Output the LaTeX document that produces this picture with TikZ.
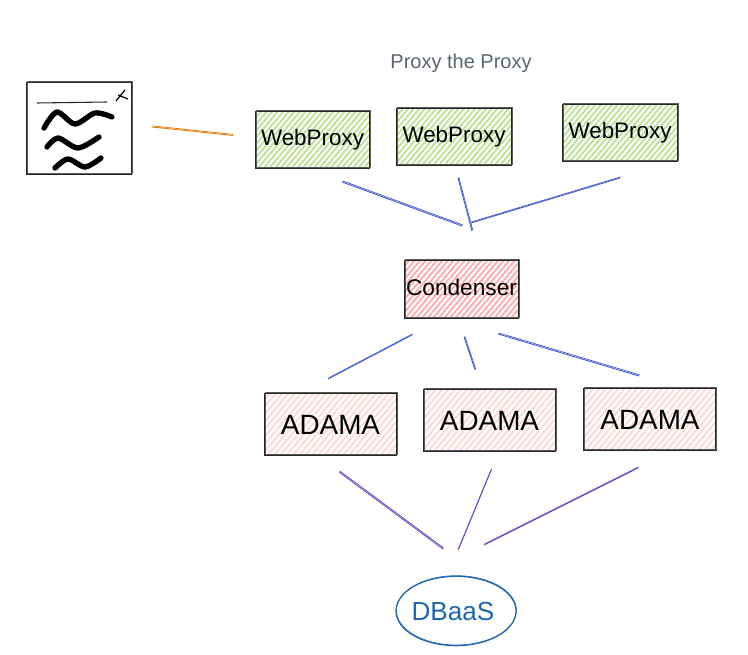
\documentclass[tikz,border=0pt]{standalone}
\usepackage{fontspec}
\setmainfont{Liberation Sans}
\usetikzlibrary{patterns.meta,shapes.geometric}
\definecolor{hachgreen}{HTML}{BFE29A}
\definecolor{hachred}{HTML}{FAB0B0}
\definecolor{hachpink}{HTML}{FDDADA}
\definecolor{titlegray}{HTML}{5C6570}
\definecolor{linkorange}{HTML}{E8801A}
\definecolor{linkblue}{HTML}{4A62D2}
\definecolor{linkpurple}{HTML}{6A50CC}
\definecolor{dbblue}{HTML}{1F66AC}
\tikzset{
   sketchbox/.style={draw=black!85,line width=.8pt,inner sep=0pt,
     postaction={draw=black!65,line width=.7pt,transform canvas={xshift=.7pt,yshift=.8pt}}},
   proxybox/.style={sketchbox,minimum width=86pt,minimum height=43pt,font=\fontsize{16.8}{20}\selectfont,
     pattern={Lines[angle=50,distance=3.2pt,line width=1.5pt]},pattern color=hachgreen},
   condbox/.style={sketchbox,minimum width=86pt,minimum height=44pt,font=\fontsize{17}{20}\selectfont,
     pattern={Lines[angle=50,distance=3.2pt,line width=1.5pt]},pattern color=hachred},
   adamabox/.style={sketchbox,minimum width=99pt,minimum height=47pt,font=\fontsize{20.9}{24}\selectfont,
     pattern={Lines[angle=50,distance=3.6pt,line width=1.5pt]},pattern color=hachpink},
   sketchlink/.style={line width=.7pt,postaction={draw,line width=.6pt,transform canvas={xshift=.5pt,yshift=.8pt}}},
   squiggle/.style={line width=4pt,line cap=round,line join=round}
}
\begin{document}
\begin{tikzpicture}[x=.75pt,y=-.75pt]
   \useasboundingbox (0,0) rectangle (748,655);
   \path (461,63) node[text=titlegray,font=\fontsize{15}{18}\selectfont] (title) {Proxy the Proxy};

   \path (79,128.5) node[sketchbox,line width=1pt,minimum width=79pt,minimum height=69pt] (doc) {};
   \draw[line width=.8pt,black!85] (37,103) -- (107,102);
   \draw[line width=.9pt] (116,101) -- (125,90) (118,95) -- (128,99);
   \draw[squiggle] plot[smooth] coordinates {(44,128) (57,112) (75,124) (95,113) (112,117)};
   \draw[squiggle] plot[smooth] coordinates {(47,147) (58,138) (78,148) (99,137)};
   \draw[squiggle] plot[smooth] coordinates {(55,168) (68,159) (85,167) (101,158)};

   \path (312.5,140) node[proxybox] (web1) {WebProxy};
   \path (454,137) node[proxybox] (web2) {WebProxy};
   \path (620,133) node[proxybox] (web3) {WebProxy};
   \path (461.5,289.5) node[condbox,text depth=3.8pt] (cond) {Condenser};
   \path (330.5,424.5) node[adamabox] (adama1) {ADAMA};
   \path (489.5,420.5) node[adamabox] (adama2) {ADAMA};
   \path (650,419.5) node[adamabox] (adama3) {ADAMA};
   \path (456,611) node[draw=dbblue,text=dbblue,ellipse,line width=.9pt,inner sep=0pt,minimum width=90pt,minimum height=52pt,font=\fontsize{19.6}{24}\selectfont,
     postaction={draw=dbblue,line width=.5pt,transform canvas={xshift=.3pt,yshift=.5pt}}] (db) {\hspace*{-4.5pt}DBaaS};

   \coordinate (docout) at (152,127);
   \coordinate (webin) at (233,135.5);
   \coordinate (web1out) at (342,182);
   \coordinate (web2out) at (458,178);
   \coordinate (web3out) at (620,178);
   \coordinate (condin1) at (462,226);
   \coordinate (condin2) at (472,231);
   \coordinate (condin3) at (471,223);
   \coordinate (condout1) at (412,335);
   \coordinate (condout2) at (464,337);
   \coordinate (condout3) at (498,334);
   \coordinate (adamain1) at (328,379);
   \coordinate (adamain2) at (475,370);
   \coordinate (adamain3) at (639,376);
   \coordinate (adamaout1) at (339,472);
   \coordinate (adamaout2) at (491,470);
   \coordinate (adamaout3) at (638,468);
   \coordinate (dbin1) at (443,549);
   \coordinate (dbin2) at (458,550);
   \coordinate (dbin3) at (484,545);

   \draw[sketchlink,linkorange] (docout) -- (webin);
   \draw[sketchlink,linkblue] (web1out) -- (condin1);
   \draw[sketchlink,linkblue] (web2out) -- (condin2);
   \draw[sketchlink,linkblue] (web3out) -- (condin3);
   \draw[sketchlink,linkblue] (condout1) -- (adamain1);
   \draw[sketchlink,linkblue] (condout2) -- (adamain2);
   \draw[sketchlink,linkblue] (condout3) -- (adamain3);
   \draw[sketchlink,linkpurple] (adamaout1) -- (dbin1);
   \draw[sketchlink,linkpurple] (adamaout2) -- (dbin2);
   \draw[sketchlink,linkpurple] (adamaout3) -- (dbin3);
\end{tikzpicture}
\end{document}
